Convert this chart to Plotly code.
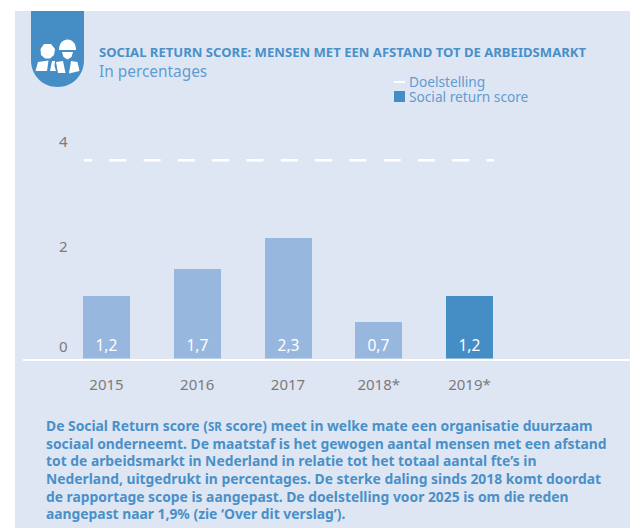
import plotly.graph_objects as go

years = ["2015", "2016", "2017", "2018*", "2019*"]
scores = [1.2, 1.7, 2.3, 0.7, 1.2]
labels = ["1,2", "1,7", "2,3", "0,7", "1,2"]
target_value = 3.77
target_span = [-0.248, 4.27]
y_ticks = [0, 2, 4]
y_tick_shift = [13, 7.5, 7.5]
title = "SOCIAL RETURN SCORE: MENSEN MET EEN AFSTAND TOT DE ARBEIDSMARKT"
subtitle = "In percentages"
legend_names = ["Doelstelling", "Social return score"]
note_lines = [
    "De Social Return score (<span style='font-size:11.5px'>SR</span> score) meet in welke mate een organisatie duurzaam",
    "sociaal onderneemt. De maatstaf is het gewogen aantal mensen met een afstand",
    "tot de arbeidsmarkt in Nederland in relatie tot het totaal aantal fte’s in",
    "Nederland, uitgedrukt in percentages. De sterke daling sinds 2018 komt doordat",
    "de rapportage scope is aangepast. De doelstelling voor 2025 is om die reden",
    "aangepast naar 1,9% (zie ‘Over dit verslag’).",
]

W, H = 630, 528
FONT = "Noto Sans"
PANEL = "#dfe6f3"
LIGHT = "#97b7de"
DARK = "#458dc5"
BLUE = "#4a90c8"
SOFT = "#5f9cd2"
GREY = "#7b7b7b"
STEP = 90.75
X0 = 106.5
UNIT = 52.6
BASE = 358.5


def px(x):
    return x / W


def py(y):
    return 1 - y / H


def path(d):
    out = []
    for token in d:
        if isinstance(token, str):
            out.append(token)
        else:
            out.append(f"{px(token[0]):.5f},{py(token[1]):.5f}")
    return " ".join(out)


def paper_shape(d, color):
    return dict(type="path", xref="paper", yref="paper", path=path(d),
                fillcolor=color, line=dict(width=0), layer="above")


def rect(x0, y0, x1, y1, color, layer="above"):
    return dict(type="rect", xref="paper", yref="paper", x0=px(x0), x1=px(x1),
                y0=py(y0), y1=py(y1), fillcolor=color, line=dict(width=0), layer=layer)


shapes = [
    rect(15, 11, 631, 529, PANEL, "below"),
    paper_shape(["M", (31, 11), "L", (84, 11), "L", (84, 60), "C", (84, 76), (72, 87), (57.5, 87),
                 "C", (43, 87), (31, 76), (31, 60), "Z"], DARK),
    # left head
    paper_shape(["M", (44, 44), "L", (51, 44), "L", (55, 49), "L", (54, 55), "L", (50, 58.5),
                 "L", (45, 58.5), "L", (41, 55), "L", (40.5, 49), "Z"], "white"),
    # left body
    paper_shape(["M", (38, 62), "L", (48.5, 60.5), "L", (47, 71), "L", (35.5, 71), "Z"], "white"),
    paper_shape(["M", (52, 61), "L", (55, 61), "L", (54.5, 66), "L", (56, 71), "L", (50, 71), "Z"], "white"),
    # helmet
    paper_shape(["M", (59, 50), "C", (59, 43), (63, 39.5), (67.7, 39.5), "C", (72, 39.5), (76, 43), (76, 50), "Z"], "white"),
    # face
    paper_shape(["M", (62, 52), "L", (73, 52), "L", (71.5, 57), "L", (67.5, 59.5), "L", (63.5, 57), "Z"], "white"),
    # right body
    paper_shape(["M", (56, 62), "L", (63, 61), "L", (65.5, 73), "L", (58, 73), "Z"], "white"),
    paper_shape(["M", (71, 61), "L", (77.5, 62), "L", (79.5, 71), "L", (69, 73.5), "Z"], "white"),
    # legend keys
    rect(394, 81, 405, 83, "white"),
    rect(394, 91, 405, 102, DARK),
]


def note(text, x, y, size, color, bold=False):
    return dict(xref="paper", yref="paper", x=px(x), y=py(y), xanchor="left", yanchor="middle",
                showarrow=False, align="left", text=f"<b>{text}</b>" if bold else text,
                font=dict(family=FONT, size=size, color=color))


annotations = [
    note(title, 97, 52, 13.1, BLUE, True),
    note(subtitle, 97, 71, 15.4, SOFT),
    note(legend_names[0], 407, 81.5, 13.7, SOFT),
    note(legend_names[1], 407, 96.5, 13.7, SOFT),
]
for tick, shift in zip(y_ticks, y_tick_shift):
    annotations.append(dict(xref="paper", yref="y", x=px(63), y=tick, yshift=shift, xanchor="center",
                            yanchor="middle", showarrow=False, text=str(tick),
                            font=dict(family=FONT, size=15, color=GREY)))
for i, line in enumerate(note_lines):
    annotations.append(note(line, 44, 425.5 + i * 17.65, 13.85, BLUE, True))

fig = go.Figure()
x_idx = list(range(len(years)))
fig.add_bar(x=x_idx, y=scores, width=47 / STEP, name=legend_names[1],
            marker=dict(color=[LIGHT, LIGHT, LIGHT, LIGHT, DARK], line=dict(width=0)),
            text=labels, textposition="inside", insidetextanchor="start", textangle=0,
            constraintext="none", textfont=dict(family=FONT, size=15.5, color="white"))
fig.add_scatter(x=target_span, y=[target_value, target_value], mode="lines", name=legend_names[0],
                line=dict(color="white", width=2.5,
                          dash="8px,17.3px," + ",".join(["17px,17.3px"] * 11)))

fig.update_layout(
    width=W, height=H, autosize=False, showlegend=False, bargap=0,
    margin=dict(l=0, r=0, t=0, b=0, pad=0),
    paper_bgcolor="white", plot_bgcolor="rgba(0,0,0,0)",
    shapes=shapes, annotations=annotations,
    xaxis=dict(domain=[px(23), 1], range=[(23 - X0) / STEP, (630 - X0) / STEP],
               tickmode="array", tickvals=x_idx, ticktext=years, showgrid=False, zeroline=False,
               showline=True, linecolor="white", linewidth=2,
               ticks="outside", ticklen=11, tickcolor="rgba(0,0,0,0)",
               tickfont=dict(family=FONT, size=15, color=GREY)),
    yaxis=dict(domain=[py(BASE), py(BASE - 4.5 * UNIT)], range=[0, 4.5], showgrid=False, zeroline=False,
               showline=False, showticklabels=False, ticks="", tickvals=y_ticks),
)

fig.write_html("out.html", config={"displayModeBar": False},
               post_script="document.body.style.margin='0';document.documentElement.style.overflow='hidden';")
